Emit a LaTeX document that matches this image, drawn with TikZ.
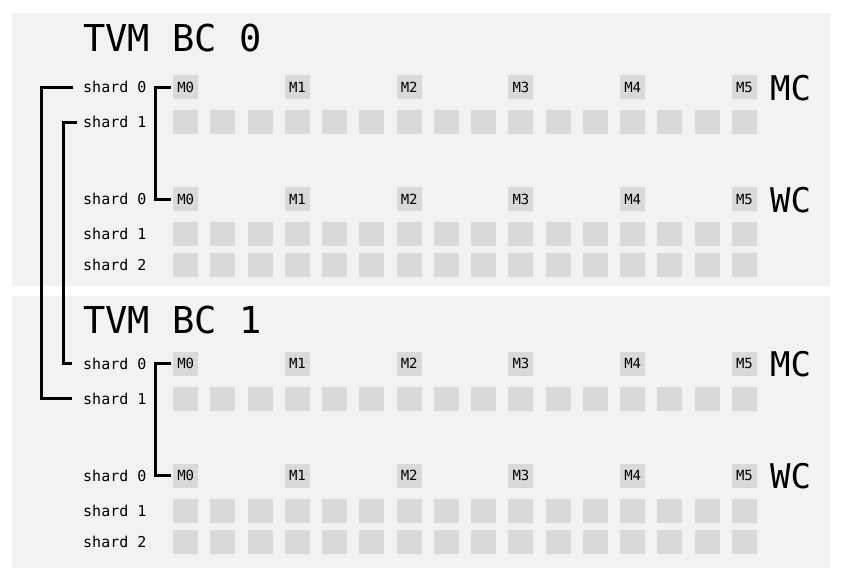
\documentclass[tikz,border=0pt]{standalone}
\usepackage{fontspec}
\setmonofont{DejaVu Sans Mono}
\usepackage{tikz}
\usetikzlibrary{calc}
\definecolor{panelbg}{RGB}{242,242,242}
\definecolor{cellgray}{RGB}{217,217,217}
\tikzset{
cell/.style={fill=cellgray,minimum width=25pt,minimum height=24pt,inner sep=0pt,anchor=west},
mbox/.style={cell,font=\ttfamily\fontsize{14}{14}\selectfont},
shardlabel/.style={anchor=west,inner sep=0pt,font=\ttfamily\fontsize{15}{15}\selectfont},
bctitle/.style={anchor=west,inner sep=0pt,font=\ttfamily\fontsize{37}{37}\selectfont},
kind/.style={anchor=west,inner sep=0pt,font=\ttfamily\fontsize{34}{34}\selectfont},
link/.style={line width=3pt}
}

\begin{document}
\begin{tikzpicture}[x=1pt,y=-1pt]
\useasboundingbox (0,0) rectangle (844,582);
\fill[panelbg] (12,13) rectangle (830,286);
\fill[panelbg] (12,296) rectangle (830,568);
\foreach \p/\ty in {0/38,1/320}
\node[bctitle] (title\p) at (83,\ty) {TVM BC \p};
\foreach \p/\dy in {0/0,1/276.5}
{
\node[shardlabel] (mc\p s0) at (83,{87+\dy}) {shard 0};
\node[shardlabel] (mc\p s1) at (83,{122+\dy}) {shard 1};
\node[shardlabel] (wc\p s0) at (83,{199+\dy}) {shard 0};
\node[shardlabel] (wc\p s1) at (83,{234+\dy}) {shard 1};
\node[shardlabel] (wc\p s2) at (83,{265+\dy}) {shard 2};
\foreach \i/\c in {0/0,1/3,2/6,3/9,4/12,5/15}
{
\node[mbox] (mc\p m\i) at ({173+37.25*\c},{87+\dy}) {M\i};
\node[mbox] (wc\p m\i) at ({173+37.25*\c},{199+\dy}) {M\i};
}
\foreach \c in {0,...,15}
{
\node[cell] (mc\p c\c) at ({173+37.25*\c},{122+\dy}) {};
\node[cell] (wc\p c\c) at ({173+37.25*\c},{234+\dy}) {};
\node[cell] (wc\p d\c) at ({173+37.25*\c},{265+\dy}) {};
}
\node[kind] (kindmc\p) at (770,{88+\dy}) {MC};
\node[kind] (kindwc\p) at (770,{200+\dy}) {WC};
\draw[link] ([xshift=-2pt]mc\p m0.west) -- ++(-15.5,0) |- ([xshift=-2pt]wc\p m0.west);
}
\draw[link] ([xshift=-10pt]mc0s0.west) -- ++(-31.5,0) |- ([xshift=-11pt]mc1s1.west);
\draw[link] ([xshift=-6pt]mc0s1.west) -- ++(-14,0) |- ([xshift=-11pt]mc1s0.west);
\end{tikzpicture}
\end{document}
